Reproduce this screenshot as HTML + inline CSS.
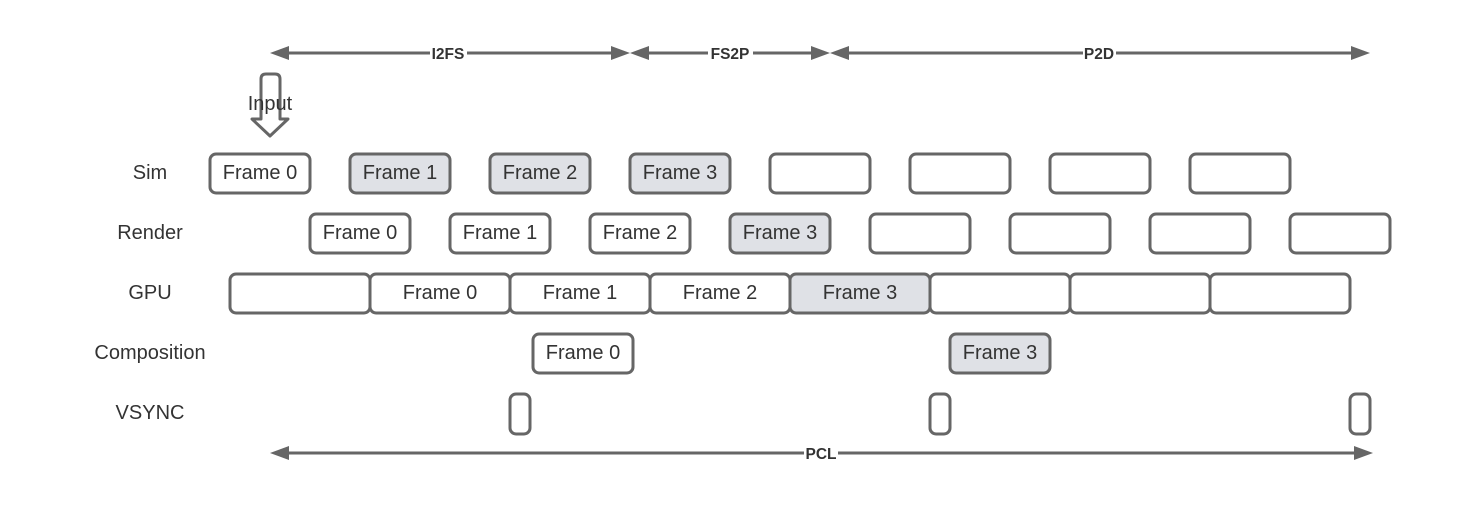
<!DOCTYPE html>
<html><head><meta charset="utf-8"><style>
html,body{margin:0;padding:0;background:#fff;}
svg{display:block;}
text{font-family:"Liberation Sans",Arial,sans-serif;fill:#333;}
</style></head><body>
<svg width="1477" height="508" viewBox="0 0 1477 508" xmlns="http://www.w3.org/2000/svg">
<g fill="none" stroke="#666" stroke-width="3">
<line x1="285" y1="53" x2="615" y2="53"/>
<line x1="645" y1="53" x2="815" y2="53"/>
<line x1="845" y1="53" x2="1355" y2="53"/>
<line x1="285" y1="453" x2="1358" y2="453"/>
</g>
<g fill="#666">
<polygon points="270,53 289,46 289,60"/>
<polygon points="630,53 611,46 611,60"/>
<polygon points="630,53 649,46 649,60"/>
<polygon points="830,53 811,46 811,60"/>
<polygon points="830,53 849,46 849,60"/>
<polygon points="1370,53 1351,46 1351,60"/>
<polygon points="270,453 289,446 289,460"/>
<polygon points="1373,453 1354,446 1354,460"/>
</g>
<g font-size="15.5" font-weight="bold" text-anchor="middle">
<rect x="430" y="45" width="37" height="16" fill="#fff"/>
<text x="448" y="59">I2FS</text>
<rect x="708" y="45" width="45" height="16" fill="#fff"/>
<text x="730" y="59">FS2P</text>
<rect x="1083" y="45" width="33" height="16" fill="#fff"/>
<text x="1099" y="59">P2D</text>
<rect x="804" y="445" width="34" height="16" fill="#fff"/>
<text x="821" y="459">PCL</text>
</g>
<path d="M261,79 Q261,74 266,74 L275,74 Q280,74 280,79 L280,119 L288,119 L270,136 L252,119 L261,119 Z" fill="#fff" stroke="#666" stroke-width="3" stroke-linejoin="round"/>
<text x="270" y="110" font-size="20" text-anchor="middle">Input</text>
<g font-size="20" text-anchor="middle">
<text x="150" y="179">Sim</text>
<text x="150" y="239">Render</text>
<text x="150" y="299">GPU</text>
<text x="150" y="359">Composition</text>
<text x="150" y="419">VSYNC</text>
</g>
<g stroke="#666" stroke-width="3">
<rect x="210" y="154" width="100" height="39" rx="6" fill="#fff"/>
<rect x="350" y="154" width="100" height="39" rx="6" fill="#dfe1e6"/>
<rect x="490" y="154" width="100" height="39" rx="6" fill="#dfe1e6"/>
<rect x="630" y="154" width="100" height="39" rx="6" fill="#dfe1e6"/>
<rect x="770" y="154" width="100" height="39" rx="6" fill="#fff"/>
<rect x="910" y="154" width="100" height="39" rx="6" fill="#fff"/>
<rect x="1050" y="154" width="100" height="39" rx="6" fill="#fff"/>
<rect x="1190" y="154" width="100" height="39" rx="6" fill="#fff"/>
<rect x="310" y="214" width="100" height="39" rx="6" fill="#fff"/>
<rect x="450" y="214" width="100" height="39" rx="6" fill="#fff"/>
<rect x="590" y="214" width="100" height="39" rx="6" fill="#fff"/>
<rect x="730" y="214" width="100" height="39" rx="6" fill="#dfe1e6"/>
<rect x="870" y="214" width="100" height="39" rx="6" fill="#fff"/>
<rect x="1010" y="214" width="100" height="39" rx="6" fill="#fff"/>
<rect x="1150" y="214" width="100" height="39" rx="6" fill="#fff"/>
<rect x="1290" y="214" width="100" height="39" rx="6" fill="#fff"/>
<rect x="230" y="274" width="140" height="39" rx="6" fill="#fff"/>
<rect x="370" y="274" width="140" height="39" rx="6" fill="#fff"/>
<rect x="510" y="274" width="140" height="39" rx="6" fill="#fff"/>
<rect x="650" y="274" width="140" height="39" rx="6" fill="#fff"/>
<rect x="790" y="274" width="140" height="39" rx="6" fill="#dfe1e6"/>
<rect x="930" y="274" width="140" height="39" rx="6" fill="#fff"/>
<rect x="1070" y="274" width="140" height="39" rx="6" fill="#fff"/>
<rect x="1210" y="274" width="140" height="39" rx="6" fill="#fff"/>
<rect x="533" y="334" width="100" height="39" rx="6" fill="#fff"/>
<rect x="950" y="334" width="100" height="39" rx="6" fill="#dfe1e6"/>
<rect x="510" y="394" width="20" height="40" rx="6" fill="#fff"/>
<rect x="930" y="394" width="20" height="40" rx="6" fill="#fff"/>
<rect x="1350" y="394" width="20" height="40" rx="6" fill="#fff"/>
</g>
<g font-size="20" text-anchor="middle">
<text x="260" y="179">Frame 0</text>
<text x="400" y="179">Frame 1</text>
<text x="540" y="179">Frame 2</text>
<text x="680" y="179">Frame 3</text>
<text x="360" y="239">Frame 0</text>
<text x="500" y="239">Frame 1</text>
<text x="640" y="239">Frame 2</text>
<text x="780" y="239">Frame 3</text>
<text x="440" y="299">Frame 0</text>
<text x="580" y="299">Frame 1</text>
<text x="720" y="299">Frame 2</text>
<text x="860" y="299">Frame 3</text>
<text x="583" y="359">Frame 0</text>
<text x="1000" y="359">Frame 3</text>
</g>
</svg>
</body></html>
